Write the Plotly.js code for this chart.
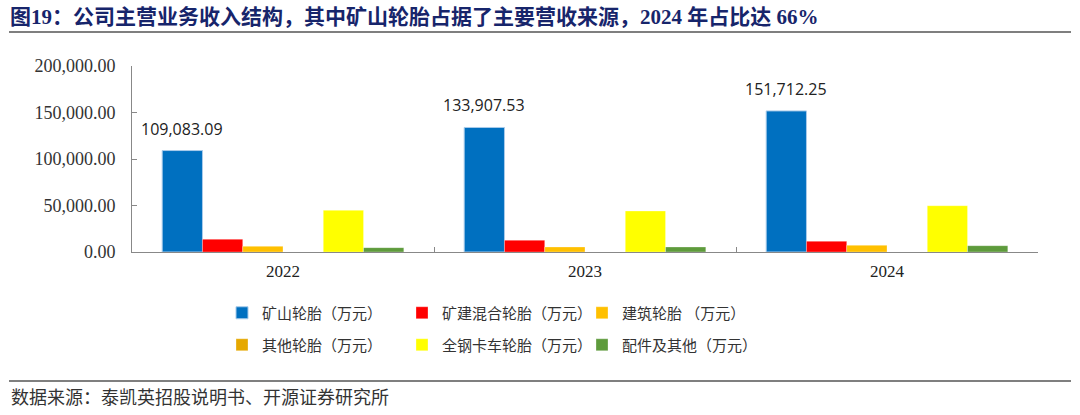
<!DOCTYPE html>
<html>
<head>
<meta charset="utf-8">
<script src="https://cdn.plot.ly/plotly-3.0.1.min.js"></script>
<style>html,body{margin:0;padding:0;background:#fff;}#chart{width:1080px;height:415px;}</style>
</head>
<body>
<div id="chart"></div>
<script>
const years = ['2022', '2023', '2024'];
const seriesNames = ['矿山轮胎（万元）', '矿建混合轮胎（万元）', '建筑轮胎 （万元）', '其他轮胎（万元）', '全钢卡车轮胎（万元）', '配件及其他（万元）'];
const miningTire = [109083.09, 133907.53, 151712.25];
const mixedTire = [13700, 12600, 11500];
const constructionTire = [6100, 5400, 7200];
const otherTire = [0, 0, 0];
const truckTire = [44800, 44100, 49800];
const partsOther = [4700, 5400, 6800];
const yTicks = [0, 50000, 100000, 150000, 200000];
const titleText = '图19：公司主营业务收入结构，其中矿山轮胎占据了主要营收来源，2024 年占比达 66%';
const sourceText = '数据来源：泰凯英招股说明书、开源证券研究所';

const colors = ['#0070C0', '#FF0000', '#FFC000', '#E6A800', '#FFFF00', '#5E9B3C'];
const values = [miningTire, mixedTire, constructionTire, otherTire, truckTire, partsOther];

const traces = values.map((v, i) => ({
  type: 'bar', x: years, y: v, name: seriesNames[i],
  marker: {color: colors[i], line: {color: i === 0 ? '#A9CBEA' : 'rgba(255,255,255,0.6)', width: i === 0 ? 1 : 0.5}},
  legend: i < 3 ? 'legend' : 'legend2',
  hoverinfo: 'x+y'
}));

const L = 132, R = 1038, T = 66, B = 252;
const px = x => (x - L) / (R - L);
const py = y => (B - y) / (B - T);

// bar offset of first series within its category (bargap 0.2, 6 series)
const catWidth = (R - L) / years.length;
const barW = catWidth * 0.8 / values.length;
const firstBarShift = -2.5 * barW;

const legendCommon = {
  orientation: 'h', xanchor: 'left', yanchor: 'middle',
  entrywidth: 135, entrywidthmode: 'pixels',
  font: {family: 'Noto Sans CJK SC, sans-serif', size: 15, color: '#333'},
  bgcolor: 'rgba(0,0,0,0)', itemwidth: 30, tracegroupgap: 0
};

// category axis annotations use the category index
const labelAnns = years.map((yr, i) => ({
  xref: 'x', yref: 'y', x: i, y: miningTire[i], xshift: firstBarShift, yshift: 9,
  xanchor: 'center', yanchor: 'bottom', showarrow: false,
  text: miningTire[i].toLocaleString('en-US', {minimumFractionDigits: 2, maximumFractionDigits: 2}),
  font: {family: 'Open Sans, sans-serif', size: 16, color: '#222'}
}));

const layout = {
  width: 1080, height: 415,
  margin: {l: L, r: 1080 - R, t: T, b: 415 - B},
  paper_bgcolor: '#fff', plot_bgcolor: '#fff',
  barmode: 'group', bargap: 0.2, bargroupgap: 0,
  showlegend: true,
  legend: Object.assign({x: px(222), y: py(313)}, legendCommon),
  legend2: Object.assign({x: px(222), y: py(345)}, legendCommon),
  xaxis: {
    type: 'category', tickson: 'boundaries', ticks: 'inside', ticklen: 5, tickcolor: '#888',
    showline: true, linecolor: '#888', linewidth: 1, showgrid: false, zeroline: false,
    tickfont: {family: 'Liberation Serif, serif', size: 17, color: '#222'},
    ticklabelstandoff: 4, range: [-0.5, 2.5]
  },
  yaxis: {
    range: [0, 200000], tickvals: yTicks, tickformat: ',.2f',
    ticks: 'inside', ticklen: 5, tickcolor: '#888',
    showline: true, linecolor: '#888', linewidth: 1, showgrid: false, zeroline: false,
    tickfont: {family: 'Liberation Serif, serif', size: 18, color: '#333'},
    ticklabelstandoff: 12
  },
  annotations: labelAnns.concat([
    {xref: 'paper', yref: 'paper', x: px(8), y: py(17), xanchor: 'left', yanchor: 'middle', showarrow: false,
     text: '<b>' + titleText + '</b>', font: {family: 'Liberation Serif, Noto Sans CJK SC, serif', size: 21, color: '#17256B'}},
    {xref: 'paper', yref: 'paper', x: px(9), y: py(396), xanchor: 'left', yanchor: 'middle', showarrow: false,
     text: sourceText, font: {family: 'Noto Sans CJK SC, sans-serif', size: 18, color: '#333'}}
  ]),
  shapes: [
    {type: 'line', xref: 'paper', yref: 'paper', x0: px(9), x1: px(1071), y0: py(32), y1: py(32), line: {color: '#555', width: 1.5}},
    {type: 'line', xref: 'paper', yref: 'paper', x0: px(9), x1: px(1071), y0: py(381), y1: py(381), line: {color: '#555', width: 1.5}}
  ]
};

Plotly.newPlot('chart', traces, layout, {displayModeBar: false, staticPlot: true});
</script>
</body>
</html>
